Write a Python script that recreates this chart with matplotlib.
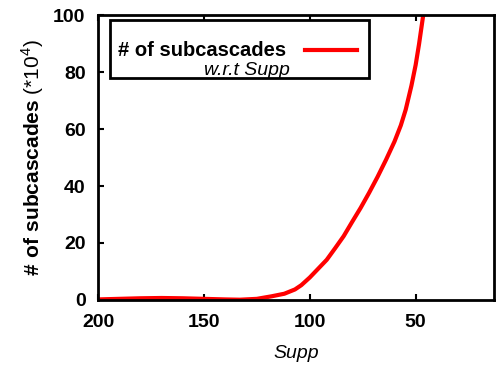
import numpy as np
import matplotlib.pyplot as plt
from matplotlib.patches import Rectangle
from matplotlib.lines import Line2D

plt.rcParams['font.family'] = ['Liberation Sans', 'DejaVu Sans']
plt.rcParams['mathtext.fontset'] = 'custom'
plt.rcParams['mathtext.rm'] = 'Liberation Sans'
plt.rcParams['mathtext.bf'] = 'Liberation Sans:bold'

# values (Supp vs. # of subcascades, in units of 10^4)
supp = [200, 190, 180, 170, 160, 150, 140, 133, 125, 118, 112, 107, 104, 100, 96,
        92, 88, 84, 80, 76, 72, 68, 64, 60, 57, 54.7, 52, 50, 48.4, 46.5, 45.8]
subcascades = [0.2, 0.4, 0.6, 0.7, 0.6, 0.4, 0.2, 0.1, 0.4, 1.3, 2.2, 3.7, 5.2, 7.9, 11.0,
               14.1, 18.2, 22.4, 27.4, 32.3, 37.6, 43.2, 49.2, 55.6, 61.3, 66.8, 75.2, 82.5,
               89.8, 99.6, 103]

x_ticks = [200, 150, 100, 50]
y_ticks = [0, 20, 40, 60, 80, 100]

fig = plt.figure(figsize=(4.96, 3.68), dpi=100)
ax = fig.add_axes([0.1976, 0.1848, 0.7984, 0.7744])

ax.plot(supp, subcascades, color='#ff0000', lw=3.0, solid_capstyle='butt')

ax.set_xlim(200, 13)
ax.set_ylim(0, 100)
ax.set_xticks(x_ticks)
ax.set_yticks(y_ticks)
ax.tick_params(direction='in', length=4, width=1.5, labelsize=14,
               top=True, right=False)
ax.tick_params(axis='x', pad=10)
ax.tick_params(axis='y', pad=9)
for lab in ax.get_xticklabels() + ax.get_yticklabels():
    lab.set_fontweight('bold')
for s in ax.spines.values():
    s.set_linewidth(2)

ax.set_xlabel('Supp', fontsize=14, style='italic', labelpad=10)
ax.set_ylabel(r'$\mathbf{\#\ of\ subcascades}$ (*10$^{4}$)', fontsize=15, labelpad=5)

# legend box drawn by hand
ax.add_patch(Rectangle((0.0303, 0.779), 0.654, 0.203, transform=ax.transAxes,
                       fill=False, ec='black', lw=2, zorder=5))
ax.text(0.05, 0.877, '# of subcascades', transform=ax.transAxes, fontsize=14.5,
        fontweight='bold', va='center', ha='left', zorder=6)
ax.text(0.375, 0.805, 'w.r.t Supp', transform=ax.transAxes, fontsize=14,
        style='italic', va='center', ha='center', zorder=6)
ax.add_line(Line2D([0.522, 0.655], [0.877, 0.877], transform=ax.transAxes,
                   color='#ff0000', lw=3.0, zorder=6))

fig.savefig('out.png', dpi=100)
